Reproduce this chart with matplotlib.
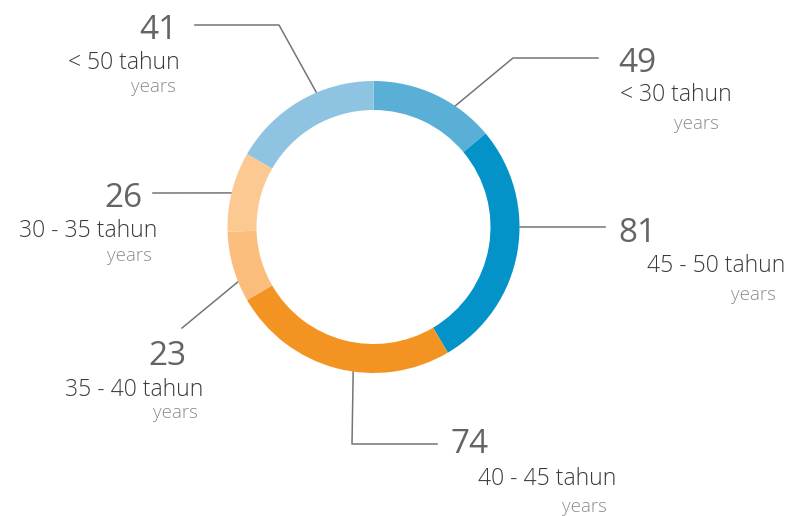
import matplotlib.pyplot as plt
import numpy as np

# employees per age group (callout values)
age_groups = ["< 30 tahun", "45 - 50 tahun", "40 - 45 tahun", "35 - 40 tahun", "30 - 35 tahun", "< 50 tahun"]
employees = [49, 81, 74, 23, 26, 41]
# wedge sizes as drawn in the source ring (first and last are swapped there)
ring_values = [41, 81, 74, 23, 26, 49]
ring_colors = ["#5aafd6", "#0393c8", "#f39322", "#fbbd7b", "#fdc992", "#8fc3e2"]

# ring geometry in pixels
CX, CY = 373.5, 227.0
R_OUT = 146.0
RING_W = 29.0

# callout layout: anchor angle on the ring (deg clockwise from top), leader path,
# then (x, y, ha) for number, "tahun" line and "years" line
callouts = [
    (34,    [(513, 58), (598, 58)],  (618, 72, "left"),   (620, 101, "left"),  (719, 129, "right")),
    (90,    [(605, 227)],            (618, 242, "left"),  (647, 272, "left"),  (776, 300, "right")),
    (188,   [(352, 444), (437, 444)], (450, 453, "left"), (478, 485, "left"),  (607, 512, "right")),
    (248,   [(182, 328)],            (186, 365, "right"), (203, 396, "right"), (198, 418, "right")),
    (283.5, [(153, 193)],            (142, 207, "right"), (157, 237, "right"), (152, 261, "right")),
    (337,   [(279, 25), (195, 25)],  (177, 39, "right"),  (180, 69, "right"),  (176, 92, "right")),
]

FONT = "Open Sans"

fig = plt.figure(figsize=(7.95, 5.16), dpi=100)
ax = fig.add_axes([0, 0, 1, 1])

# y axis is inverted (pixel coords), so start at -90 and go "counterclockwise"
# in data space, which shows clockwise from the top on screen
ax.pie(ring_values, colors=ring_colors, startangle=-90, counterclock=True,
       center=(CX, CY), radius=R_OUT,
       wedgeprops=dict(width=RING_W, linewidth=0))

for (ang, path, num, tah, yrs), label, n in zip(callouts, age_groups, employees):
    a = np.deg2rad(ang)
    x0 = CX + R_OUT * np.sin(a)
    y0 = CY - R_OUT * np.cos(a)
    xs = [x0] + [p[0] for p in path]
    ys = [y0] + [p[1] for p in path]
    ax.plot(xs, ys, color="#757575", lw=1.1, zorder=0)
    ax.text(num[0], num[1], str(n), ha=num[2], va="baseline",
            fontsize=24, color="#646464", family=FONT)
    ax.text(tah[0], tah[1], label, ha=tah[2], va="baseline",
            fontsize=16.5, color="#3a3a3a", family=FONT, fontweight="light")
    ax.text(yrs[0], yrs[1], "years", ha=yrs[2], va="baseline",
            fontsize=13.5, color="#8c8c8c", family=FONT, fontweight="light")

ax.set_xlim(0, 795)
ax.set_ylim(516, 0)
ax.set_aspect("auto")
ax.axis("off")

fig.savefig("out.png", dpi=100)
